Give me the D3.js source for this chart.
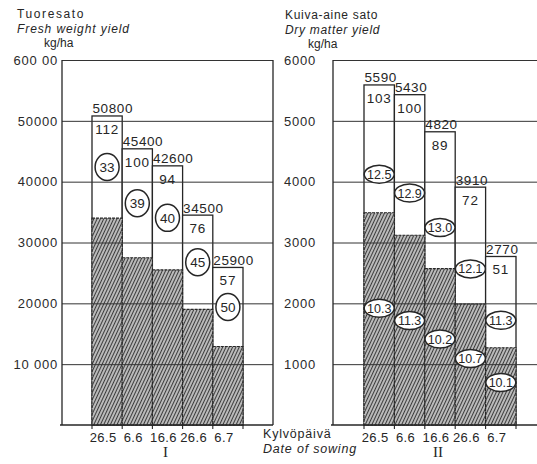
<!DOCTYPE html>
<html>
<head>
<meta charset="utf-8">
<script src="https://cdn.jsdelivr.net/npm/d3@7"></script>
<style>
  body { margin: 0; background: #fff; }
  svg { display: block; font-family: "Liberation Sans", Arial, sans-serif; }
  .tick text { fill: #2a2a2a; }
</style>
</head>
<body>
<svg width="537" height="464"></svg>
<script>
// Sowing dates (same for both panels)
const dates = ['26.5', '6.6', '16.6', '26.6', '6.7'];

// Panel I: fresh weight yield, kg/ha
const freshTotal = [50800, 45400, 42600, 34500, 25900];
const freshLower = [34000, 27500, 25500, 19000, 12900];
const freshIndex = [112, 100, 94, 76, 57];
const freshPct = ['33', '39', '40', '45', '50'];

// Panel II: dry matter yield, kg/ha
const dryTotal = [5590, 5430, 4820, 3910, 2770];
const dryLower = [3490, 3120, 2570, 1990, 1270];
const dryIndex = [103, 100, 89, 72, 51];
const dryPctUpper = ['12.5', '12.9', '13.0', '12.1', '11.3'];
const dryPctLower = ['10.3', '11.3', '10.2', '10.7', '10.1'];

// Axis ticks as printed
const leftTicks = [10000, 20000, 30000, 40000, 50000, 60000];
const leftTickLabels = ['10 000', '20000', '30000', '40000', '50000', '600 00'];
const rightTicks = [1000, 2000, 3000, 4000, 5000, 6000];
const rightTickLabels = ['1000', '2000', '3000', '4000', '5000', '6000'];

const svg = d3.select('svg');
const ink = '#262626';
const yTop = 60, base = 425;

// hatch pattern for the lower part of each bar
const pat = svg.append('defs').append('pattern')
  .attr('id', 'hatch')
  .attr('patternUnits', 'userSpaceOnUse')
  .attr('width', 3).attr('height', 3)
  .attr('patternTransform', 'rotate(25)');
pat.append('rect').attr('width', 3).attr('height', 3).attr('fill', '#bababa');
pat.append('line').attr('x1', 0.5).attr('x2', 0.5).attr('y1', 0).attr('y2', 3)
  .attr('stroke', '#3c3c3c').attr('stroke-width', 1);

function panel(opt) {
  const y = d3.scaleLinear().domain(opt.domain).range([base, yTop]);
  const x = d3.scaleBand().domain(dates).range(opt.barRange).padding(0);
  const g = svg.append('g');
  const rows = dates.map((d, i) => ({ d, i }));

  // bars: white upper part, hatched lower part
  g.selectAll('.total').data(rows).enter().append('rect')
    .attr('x', r => x(r.d)).attr('width', x.bandwidth())
    .attr('y', r => y(opt.total[r.i])).attr('height', r => base - y(opt.total[r.i]))
    .attr('fill', '#fff').attr('stroke', ink).attr('stroke-width', 1.3);
  g.selectAll('.lower').data(rows).enter().append('rect')
    .attr('x', r => x(r.d)).attr('width', x.bandwidth())
    .attr('y', r => y(opt.lower[r.i])).attr('height', r => base - y(opt.lower[r.i]))
    .attr('fill', 'url(#hatch)').attr('stroke', ink).attr('stroke-width', 1.1)
    .attr('stroke-dasharray', '3,1');

  // gridlines + tick labels
  const axis = d3.axisLeft(y)
    .tickValues(opt.ticks)
    .tickSize(-(opt.frameRight - opt.axisX))
    .tickPadding(opt.tickPad)
    .tickFormat((d, i) => opt.tickLabels[i]);
  const ag = g.append('g').attr('transform', `translate(${opt.axisX},0)`).call(axis);
  ag.select('.domain').remove();
  ag.selectAll('.tick line').attr('stroke', '#333').attr('stroke-width', 1);
  ag.selectAll('.tick text').attr('font-size', 13).attr('letter-spacing', 0.8)
    .attr('text-anchor', opt.tickAnchor);

  // frame
  g.append('line').attr('x1', opt.axisX).attr('x2', opt.axisX)
    .attr('y1', yTop).attr('y2', base).attr('stroke', ink).attr('stroke-width', 1.3);
  g.append('line').attr('x1', opt.axisX - 2).attr('x2', opt.frameRight)
    .attr('y1', base).attr('y2', base).attr('stroke', ink).attr('stroke-width', 1.4);
  if (opt.closeRight) {
    g.append('line').attr('x1', opt.frameRight).attr('x2', opt.frameRight)
      .attr('y1', yTop).attr('y2', base).attr('stroke', ink).attr('stroke-width', 1.3);
  }

  // small ticks at bar edges below the base line
  const edges = dates.map(d => x(d)).concat([x(dates[dates.length - 1]) + x.bandwidth()]);
  g.selectAll('.edge').data(edges).enter().append('line')
    .attr('x1', e => e).attr('x2', e => e)
    .attr('y1', base).attr('y2', base + 4)
    .attr('stroke', ink).attr('stroke-width', 1.1);

  // value above each bar
  g.selectAll('.val').data(rows).enter().append('text')
    .attr('x', r => x(r.d) + 0.5).attr('y', r => y(opt.total[r.i]) - 2.5)
    .attr('font-size', 13.5).attr('letter-spacing', 0.6).attr('fill', ink)
    .text(r => opt.total[r.i]);

  // relative index inside bar top
  g.selectAll('.idx').data(rows).enter().append('text')
    .attr('x', r => x(r.d) + x.bandwidth() / 2).attr('y', r => y(opt.total[r.i]) + 18)
    .attr('text-anchor', 'middle').attr('font-size', 13.5).attr('letter-spacing', 0.8)
    .attr('fill', ink)
    .text(r => opt.index[r.i]);

  // circled percentages
  opt.ovals.forEach(ov => {
    const og = g.selectAll(null).data(rows).enter().append('g')
      .attr('transform', r => {
        const cx = x(r.d) + x.bandwidth() / 2;
        const cy = ov.pos(y, r.i);
        return `translate(${cx},${cy})`;
      });
    og.append('ellipse').attr('rx', ov.rx).attr('ry', ov.ry)
      .attr('fill', '#fff').attr('stroke', ink).attr('stroke-width', 1.5);
    og.append('text').attr('text-anchor', 'middle').attr('dy', '0.36em')
      .attr('font-size', ov.size).attr('fill', ink)
      .text(r => ov.labels[r.i]);
  });

  // date labels under bars
  g.selectAll('.date').data(rows).enter().append('text')
    .attr('x', r => x(r.d) + x.bandwidth() / 2 - 4).attr('y', 442)
    .attr('text-anchor', 'middle').attr('font-size', 13).attr('letter-spacing', 0.4)
    .attr('fill', ink)
    .text(r => r.d);
  g.append('text')
    .attr('x', (opt.barRange[0] + opt.barRange[1]) / 2 - 2).attr('y', 457)
    .attr('text-anchor', 'middle').attr('font-family', 'Liberation Serif, serif')
    .attr('font-size', 15).attr('fill', ink)
    .text(opt.roman);
}

panel({
  domain: [0, 60000], barRange: [92, 243], axisX: 62, frameRight: 273, closeRight: true,
  ticks: leftTicks, tickLabels: leftTickLabels, tickPad: 4, tickAnchor: 'end',
  total: freshTotal, lower: freshLower, index: freshIndex, roman: 'I',
  ovals: [{
    labels: freshPct, rx: 12, ry: 13.5, size: 13.5,
    pos: (y, i) => (y(freshTotal[i]) + y(freshLower[i])) / 2
  }]
});

panel({
  domain: [0, 6000], barRange: [364, 516], axisX: 333, frameRight: 540, closeRight: false,
  ticks: rightTicks, tickLabels: rightTickLabels, tickPad: 17, tickAnchor: 'end',
  total: dryTotal, lower: dryLower, index: dryIndex, roman: 'II',
  ovals: [{
    labels: dryPctUpper, rx: 15, ry: 9, size: 12.5,
    pos: (y, i) => y(dryTotal[i]) + 0.7 * (y(dryLower[i]) - y(dryTotal[i]))
  }, {
    labels: dryPctLower, rx: 15, ry: 9, size: 12.5,
    pos: (y, i) => y(dryLower[i]) + 0.45 * (base - y(dryLower[i]))
  }]
});

// headings
function heading(x, lines) {
  lines.forEach(l => {
    svg.append('text').attr('x', x + (l.dx || 0)).attr('y', l.y)
      .attr('font-size', 12).attr('letter-spacing', l.ls)
      .attr('font-style', l.italic ? 'italic' : 'normal')
      .attr('fill', ink).text(l.t);
  });
}
heading(17, [
  { t: 'Tuoresato', y: 18, ls: 1.6 },
  { t: 'Fresh weight yield', y: 32.5, ls: 0.9, italic: true },
  { t: 'kg/ha', y: 47, ls: 0, dx: 27 }
]);
heading(285, [
  { t: 'Kuiva-aine sato', y: 19, ls: 0.7 },
  { t: 'Dry matter yield', y: 33.5, ls: 0.7, italic: true },
  { t: 'kg/ha', y: 48, ls: 0, dx: 23 }
]);

// sowing date caption
svg.append('text').attr('x', 263).attr('y', 438).attr('font-size', 12.5)
  .attr('letter-spacing', 0.8).attr('fill', ink).text('Kylvöpäivä');
svg.append('text').attr('x', 263).attr('y', 453).attr('font-size', 12.5)
  .attr('letter-spacing', 0.8).attr('font-style', 'italic').attr('fill', ink)
  .text('Date of sowing');
</script>
</body>
</html>
